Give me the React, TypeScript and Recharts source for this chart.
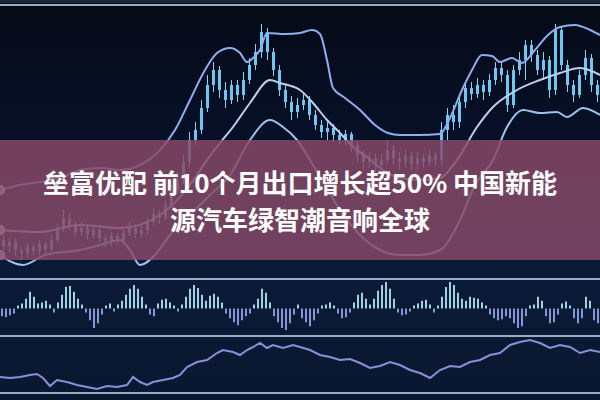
import React from 'react';
import { BarChart, Bar, XAxis, YAxis, LineChart, Line, Cell } from 'recharts';

// ---- Main panel candles (price units, 0..280) ----
const candleOpen = [40,34,38,30,27,33,29,36,31,40,52,62,55,48,52,45,50,42,38,44,40,47,52,46,50,58,66,62,75,90,100,118,140,150,172,195,210,190,180,195,185,200,215,228,248,228,210,190,178,168,175,180,165,155,148,152,145,140,146,135,125,118,122,115,120,130,122,118,124,116,122,118,125,120,150,165,158,178,192,186,195,188,200,212,205,175,210,220,235,225,210,220,190,250,215,195,185,205,222,195];
const candleClose = [34,38,30,27,33,29,36,31,40,52,62,55,48,52,45,50,42,38,44,40,47,52,46,50,58,66,62,75,90,100,118,140,150,172,195,210,190,180,195,185,200,215,228,248,228,210,190,178,168,175,180,165,155,148,152,145,140,146,135,125,118,122,115,120,130,122,118,124,116,122,118,125,120,150,165,158,178,192,186,195,188,200,212,205,175,210,220,235,225,210,220,190,250,215,195,185,205,222,195,185];
const candleHigh = [45,42,41,33,37,36,40,39,45,56,70,66,58,58,55,54,53,46,48,47,51,58,56,55,62,72,70,80,96,108,125,148,158,180,205,218,214,198,200,200,208,222,236,256,252,232,215,196,184,182,186,184,170,160,158,156,150,150,148,138,130,128,126,126,140,135,128,130,128,128,126,130,128,158,172,175,185,198,198,202,200,206,218,218,210,215,228,240,240,230,228,224,256,254,220,200,210,230,226,200];
const candleLow = [30,28,24,20,22,24,25,26,28,37,48,50,44,44,40,41,38,33,34,35,36,44,42,42,46,55,56,60,72,86,96,112,135,146,168,188,182,172,176,178,180,196,210,222,220,204,184,172,160,162,170,160,150,142,140,138,136,134,128,118,110,112,108,110,116,115,110,112,110,110,112,114,114,115,140,150,152,172,180,182,180,184,195,198,168,172,205,200,218,205,200,182,185,210,188,178,182,200,188,178];

// ---- Bollinger-style bands (x pixel position, price units) ----
const upperX = [0,20,40,60,80,100,120,140,160,175,190,205,217,230,240,247,253,260,267,285,300,312,320,327,333,345,360,375,388,400,420,440,450,462,472,482,492,500,512,522,535,548,560,575,590,600];
const upperV = [90,95,98,102,110,112,110,115,130,150,180,210,227,232,227,218,222,230,247,246,247,250,246,220,192,182,170,155,147,145,145,146,162,190,210,225,224,218,222,217,230,245,253,255,250,245];
const middleX = [0,40,80,120,160,190,207,220,233,250,270,280,300,313,327,340,353,367,380,400,420,440,457,477,493,517,540,560,580,600];
const middleV = [50,48,55,52,65,95,120,137,153,177,200,197,190,177,160,147,133,123,112,102,100,102,120,153,173,190,200,207,212,205];
const lowerX = [0,23,45,80,100,120,130,140,155,170,190,210,230,250,270,283,297,310,325,340,360,380,400,420,440,460,475,493,507,523,540,557,567,583,600];
const lowerV = [25,15,25,30,35,40,30,15,25,45,65,85,105,140,160,153,140,120,95,70,45,30,25,25,30,60,95,120,153,170,167,168,163,172,165];

// ---- Histogram (oscillator) ----
const histValues = [-8,-9,-7,-5,3,5,10,17,12,5,6,8,4,-4,6,14,22,23,17,10,4,-4,-12,-20,-15,-6,3,5,-3,4,8,14,20,24,20,12,4,-6,-8,5,9,10,6,3,-3,4,12,20,24,21,14,8,13,15,12,6,-5,-10,-14,-17,-12,-8,-5,4,10,20,16,6,-8,-14,-20,-22,-15,-6,4,-10,-14,-18,-12,-5,3,4,6,3,-5,-10,-9,-4,6,14,16,10,4,10,18,24,27,20,10,-4,-7,-6,-3,3,5,8,9,4,-4,3,12,22,27,24,16,10,8,12,11,10,6,3,-6,-10,-12,-11,-8,-10,-15,-20,-18,-8,3,4,12,8,-8,-15,-14,-6,5,7,3,-10,-15,-10,12,8,-12,-15];

// ---- Bottom line panel ----
const lowLineX = [0,10,20,30,37,43,50,57,67,77,87,97,107,117,127,133,140,147,153,163,173,180,187,197,207,217,223,233,240,247,253,260,267,273,283,293,300,310,320,330,340,350,360,370,380,390,400,410,420,430,440,450,460,470,480,490,500,510,520,530,540,550,560,570,580,590,600];
const lowLineY = [23,22,23,25,26,22,14,20,18,15,13,11,14,13,15,23,18,15,18,20,22,25,33,38,40,47,50,48,45,50,53,57,52,55,52,55,53,50,45,43,40,41,37,32,34,38,35,30,27,22,30,34,33,38,40,45,47,55,58,60,57,52,55,53,47,50,48];

const TITLE_LINE_1 = '垒富优配 前10个月出口增长超50% 中国新能';
const TITLE_LINE_2 = '源汽车绿智潮音响全球';

const candles = candleOpen.map((o, i) => ({
  i,
  body: [Math.min(o, candleClose[i]), Math.max(o, candleClose[i])],
  wick: [candleLow[i], candleHigh[i]],
}));
const upper = upperX.map((x, i) => ({ x, v: upperV[i] }));
const middle = middleX.map((x, i) => ({ x, v: middleV[i] }));
const lower = lowerX.map((x, i) => ({ x, v: lowerV[i] }));
const hist = histValues.map((v, i) => ({ i, v }));
const lowLine = lowLineX.map((x, i) => ({ x, v: lowLineY[i] }));

const abs = (top: number, height: number): React.CSSProperties => ({
  position: 'absolute', left: 0, top, width: 600, height,
});

const sep = (top: number): React.CSSProperties => ({
  position: 'absolute', left: 0, top, width: 600, height: 2, background: '#a9bfd6', opacity: 0.9,
});

export default function App() {
  return (
    <div style={{ position: 'fixed', left: 0, top: 0, width: 600, height: 400, overflow: 'hidden',
      background: 'linear-gradient(180deg, #050a16 0%, #07112a 40%, #0b1a36 70%, #0a1730 100%)' }}>
      <div style={{ position: 'absolute', left: 0, top: 0, width: 600, height: 3, background: '#1a2535' }} />
      <div style={sep(4)} />

      {/* candles */}
      <div style={abs(0, 280)}>
        <BarChart width={600} height={280} data={candles} margin={{ top: 0, right: 0, bottom: 0, left: 0 }} barGap={0} barCategoryGap={0}>
          <XAxis dataKey="i" xAxisId="w" hide />
          <XAxis dataKey="i" xAxisId="b" hide />
          <YAxis hide domain={[0, 280]} />
          <Bar dataKey="wick" xAxisId="w" barSize={1} fill="#7fd3f7" isAnimationActive={false} />
          <Bar dataKey="body" xAxisId="b" barSize={3} fill="#6cc8f2" isAnimationActive={false} />
        </BarChart>
      </div>

      {/* bands */}
      <div style={abs(0, 280)}>
        <LineChart width={600} height={280} margin={{ top: 0, right: 0, bottom: 0, left: 0 }}>
          <XAxis dataKey="x" type="number" domain={[0, 600]} hide allowDuplicatedCategory={false} />
          <YAxis hide domain={[0, 280]} />
          <Line data={upper} dataKey="v" type="monotone" stroke="#8eaef0" strokeWidth={2} dot={false} isAnimationActive={false} />
          <Line data={middle} dataKey="v" type="monotone" stroke="#b9d2f2" strokeWidth={2} dot={false} isAnimationActive={false} />
          <Line data={lower} dataKey="v" type="monotone" stroke="#9dc4f0" strokeWidth={2} dot={false} isAnimationActive={false} />
        </LineChart>
      </div>

      {/* overlay band with title */}
      <div style={{ ...abs(140, 120), background: 'rgba(135, 74, 104, 0.84)' }} />
      <div style={{ ...abs(140, 120), display: 'flex', flexDirection: 'column', justifyContent: 'center', alignItems: 'center',
        fontFamily: '"Noto Sans CJK SC", "Noto Sans", sans-serif', fontWeight: 700, fontSize: 26, lineHeight: '37px', color: '#ffffff' }}>
        <div>{TITLE_LINE_1}</div>
        <div>{TITLE_LINE_2}</div>
      </div>

      <div style={sep(278)} />

      {/* histogram */}
      <div style={abs(282, 52)}>
        <BarChart width={600} height={52} data={hist} margin={{ top: 0, right: 0, bottom: 0, left: 0 }} barCategoryGap={0}>
          <XAxis dataKey="i" hide />
          <YAxis hide domain={[-26, 26]} />
          <Bar dataKey="v" barSize={2} isAnimationActive={false}>
            {hist.map((d) => (
              <Cell key={d.i} fill={d.v >= 0 ? '#9fd0e4' : '#8595d8'} />
            ))}
          </Bar>
        </BarChart>
      </div>

      <div style={sep(335)} />

      {/* bottom line */}
      <div style={abs(336, 58)}>
        <LineChart width={600} height={58} data={lowLine} margin={{ top: 0, right: 0, bottom: 0, left: 0 }}>
          <XAxis dataKey="x" type="number" domain={[0, 600]} hide />
          <YAxis hide domain={[6, 64]} />
          <Line dataKey="v" type="linear" stroke="#8a8fd8" strokeWidth={2} dot={false} isAnimationActive={false} />
        </LineChart>
      </div>

      <div style={sep(392)} />
    </div>
  );
}
